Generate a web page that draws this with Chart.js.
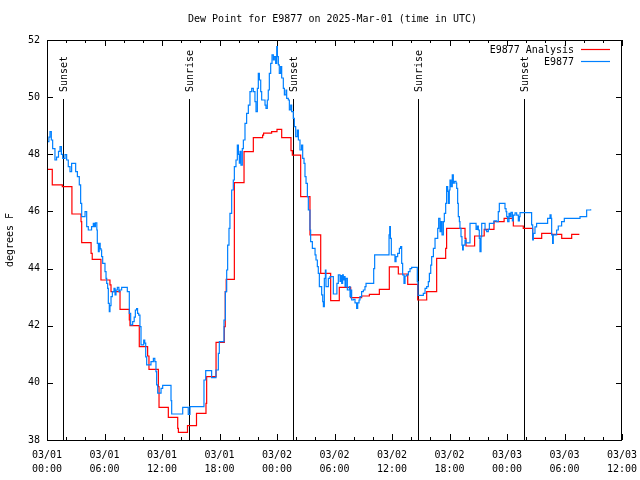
<!DOCTYPE html>
<html><head><meta charset="utf-8">
<script src="https://cdn.jsdelivr.net/npm/chart.js@4.4.0/dist/chart.umd.min.js"></script>
<style>html,body{margin:0;padding:0;background:#fff;}</style>
</head><body>
<canvas id="c" width="640" height="480"></canvas>
<script>
const chartTitle = 'Dew Point for E9877 on 2025-Mar-01 (time in UTC)';
const yAxisLabel = 'degrees F';
const xTickLabels = [['03/01','00:00'],['03/01','06:00'],['03/01','12:00'],['03/01','18:00'],['03/02','00:00'],['03/02','06:00'],['03/02','12:00'],['03/02','18:00'],['03/03','00:00'],['03/03','06:00'],['03/03','12:00']];
const sunHours = [1.7, 14.85, 25.7, 38.75, 49.8];
const sunLabels = ['Sunset','Sunrise','Sunset','Sunrise','Sunset'];
const seriesNames = ['E9877 Analysis','E9877'];
const seriesColors = ['#ff0000','#0080ff'];

// hours since 03/01 00:00 UTC (step change points)
const redHours = [0,0.55,1.6,2.6,3.55,3.62,4.6,4.72,5.63,6.57,6.68,7.62,8.59,8.66,9.63,10.5,10.64,11.62,11.69,12.66,13.64,13.71,14.66,15.6,16.59,16.66,17.64,18.5,18.6,18.7,19.55,20.56,21.53,22.5,22.6,23.44,24.0,24.49,25.46,25.6,26.47,27.44,28.56,29.6,30.5,31.69,32.83,33.64,34.68,35.72,36.66,37.64,38.68,39.62,40.66,41.6,41.7,43.62,43.72,44.62,45.62,46.64,47.7,48.66,49.7,50.68,51.62,52.66,53.71,54.75,55.55];
const redValues = [47.47,46.93,46.87,45.91,45.64,44.91,44.53,44.32,43.6,43.43,43.19,42.57,42.2,42.0,41.27,40.94,40.47,39.87,39.14,38.79,38.41,38.27,38.5,38.93,39.28,40.22,41.42,41.97,43.19,43.62,47.01,48.09,48.58,48.67,48.74,48.79,48.87,48.58,48.13,47.97,46.52,45.18,43.83,42.88,43.34,42.98,43.04,43.1,43.27,44.06,43.81,43.45,42.9,43.19,44.36,44.71,45.41,45.06,44.79,45.14,45.37,45.64,45.76,45.49,45.41,45.06,45.23,45.2,45.06,45.2,45.2];

const blueHours = [0,0.2,0.31,0.45,0.59,0.83,1.0,1.2,1.36,1.5,1.64,1.88,2.05,2.22,2.4,2.57,2.99,3.17,3.37,3.51,3.62,3.97,4.14,4.31,4.65,4.83,4.95,5.05,5.2,5.25,5.36,5.45,5.55,5.63,5.7,5.81,6.05,6.16,6.23,6.33,6.4,6.5,6.57,6.68,6.82,6.99,7.1,7.2,7.34,7.5,7.6,7.79,8.38,8.59,8.73,8.94,9.1,9.22,9.35,9.45,9.57,9.7,9.81,10.09,10.2,10.3,10.4,10.85,11.1,11.25,11.37,11.44,11.55,11.9,12.07,12.94,13.01,14.16,14.74,14.92,16.38,16.56,17.18,17.63,17.88,17.98,18.47,18.61,18.75,18.85,18.99,19.09,19.27,19.44,19.55,19.72,19.86,19.97,20.07,20.14,20.24,20.38,20.49,20.66,20.83,21.01,21.18,21.36,21.53,21.7,21.81,21.95,22.05,22.16,22.3,22.4,22.75,22.85,22.99,23.09,23.2,23.34,23.48,23.62,23.72,23.86,23.97,24.04,24.14,24.24,24.38,24.49,24.66,24.77,24.94,25.01,25.18,25.29,25.43,25.53,25.7,25.81,25.95,26.12,26.23,26.4,26.57,26.68,26.82,26.92,27.03,27.17,27.27,27.44,27.51,27.69,27.97,28.07,28.21,28.31,28.42,28.66,28.77,28.84,28.94,29.05,29.11,29.36,29.53,29.88,30.25,30.4,30.58,30.68,30.75,30.85,30.92,31.03,31.1,31.2,31.34,31.55,31.62,31.72,31.79,31.97,32.14,32.31,32.42,32.56,32.66,32.83,33.01,33.18,33.29,34.09,34.19,35.69,35.76,35.83,35.93,36.31,36.42,36.59,36.77,36.9,37.01,37.11,37.25,37.36,37.53,37.71,37.88,38.05,38.64,38.71,39.27,39.45,39.62,39.79,39.9,40.04,40.14,40.32,40.49,40.77,40.87,41.01,41.11,41.22,41.36,41.46,41.6,41.7,41.81,41.88,41.98,42.05,42.16,42.29,42.4,42.5,42.68,42.75,42.85,42.92,43.03,43.09,43.2,43.3,43.37,43.44,43.62,43.72,44.14,44.77,44.9,45.01,45.11,45.18,45.29,45.36,45.71,45.88,46.05,46.16,46.64,46.92,47.09,47.2,47.79,47.9,47.97,48.07,48.21,48.31,48.42,48.56,48.66,48.84,49.01,49.18,49.29,49.36,50.57,50.68,50.75,50.92,51.09,52.24,52.49,52.6,52.66,52.76,52.83,53.18,53.35,53.7,53.98,55.62,56.31,56.73];
const blueValues = [48.44,48.6,48.79,48.5,48.2,47.8,47.9,48.1,48.27,48.0,47.86,47.99,47.8,47.57,47.39,47.68,47.39,47.22,46.93,46.28,45.82,45.99,45.47,45.35,45.47,45.58,45.47,45.6,45.35,44.88,44.59,44.88,44.7,44.65,44.42,44.18,43.89,43.66,43.48,43.31,42.78,42.49,42.7,43.02,43.19,43.31,43.08,43.25,43.34,43.19,43.25,43.34,43.19,42.43,42.03,42.14,42.3,42.55,42.6,42.43,42.37,41.97,41.33,41.5,41.39,40.91,40.63,40.74,40.86,40.74,40.39,39.93,39.64,39.81,39.91,39.38,38.91,39.14,38.9,39.17,40.1,40.43,40.18,40.45,41.03,41.44,42.2,43.19,43.95,44.82,45.41,45.93,46.75,47.1,47.57,47.8,48.32,48.0,47.69,48.1,47.62,48.2,48.5,49.08,49.43,49.72,50.19,50.31,50.19,49.84,49.49,50.31,50.83,50.6,50.19,49.9,49.72,49.61,49.9,50.25,50.83,51.18,51.48,51.3,51.42,51.18,51.77,51.42,51.13,50.83,51.07,50.67,50.31,50.08,50.25,49.96,49.9,49.55,49.72,49.49,49.26,48.97,48.62,48.85,48.5,48.15,48.32,47.86,47.68,47.22,46.98,46.52,46.05,45.35,44.94,44.71,44.48,44.3,44.07,43.83,43.37,43.08,42.84,42.67,43.66,43.95,43.37,43.66,43.72,43.11,43.48,43.78,43.55,43.75,43.48,43.78,43.6,43.72,43.37,43.66,43.25,43.37,43.02,43.25,42.9,42.92,42.8,42.61,42.8,42.9,43.02,43.19,43.25,43.37,43.48,44.0,44.48,45.18,45.47,45.06,44.48,44.24,44.42,44.53,44.71,44.77,44.18,43.78,43.48,43.74,43.78,43.89,44.0,44.04,43.54,43.06,43.13,43.31,43.37,43.54,43.83,44.12,44.42,44.71,45.06,45.41,45.76,45.29,45.64,45.18,45.64,45.93,46.28,46.87,46.7,46.28,46.75,47.1,46.87,47.28,46.99,47.05,46.99,46.81,46.28,45.82,45.64,45.41,45.12,44.82,44.65,44.82,45.0,44.9,45.58,45.37,45.49,45.35,45.06,44.59,45.12,45.58,45.35,45.29,45.37,45.58,45.67,45.64,45.99,46.28,46.1,45.99,45.82,45.64,45.93,45.82,45.97,45.67,45.87,45.95,45.87,45.67,45.82,45.96,45.53,45.0,45.23,45.46,45.58,45.76,45.88,45.76,45.18,44.88,45.18,45.35,45.49,45.64,45.76,45.82,46.05,46.08];

const FONT = 'DejaVu Sans Mono';
const toXY = (xs, ys) => xs.map((x, i) => ({x: x, y: ys[i]}));

const gnuFrame = {
  id: 'gnuFrame',
  beforeDatasetsDraw(chart) {
    const {ctx, chartArea: a, scales: {x}} = chart;
    ctx.save();
    ctx.strokeStyle = '#000'; ctx.lineWidth = 1;
    ctx.fillStyle = '#000';
    ctx.font = '10px "' + FONT + '"';
    sunHours.forEach((h, i) => {
      const px = Math.round(x.getPixelForValue(h)) + 0.5;
      ctx.beginPath(); ctx.moveTo(px, 99); ctx.lineTo(px, a.bottom); ctx.stroke();
      ctx.save();
      ctx.translate(px + 1, 92); ctx.rotate(-Math.PI / 2);
      ctx.textAlign = 'left'; ctx.textBaseline = 'middle';
      ctx.fillText(sunLabels[i], 0, 0);
      ctx.restore();
    });
    ctx.restore();
  },
  afterDraw(chart) {
    const {ctx, chartArea: a, scales: {x, y}} = chart;
    ctx.save();
    ctx.strokeStyle = '#000'; ctx.lineWidth = 1;
    ctx.strokeRect(a.left + 0.5, a.top + 0.5, a.right - a.left - 1, a.bottom - a.top);
    ctx.beginPath();
    for (let v = 0; v <= 60; v += 2) {
      const px = Math.round(x.getPixelForValue(v)) + 0.5;
      const len = (v % 6 === 0) ? 6 : 3;
      ctx.moveTo(px, a.bottom); ctx.lineTo(px, a.bottom - len);
      ctx.moveTo(px, a.top); ctx.lineTo(px, a.top + len);
    }
    for (let v = 38; v <= 52; v += 2) {
      const py = Math.round(y.getPixelForValue(v)) + 0.5;
      ctx.moveTo(a.left, py); ctx.lineTo(a.left + 6, py);
      ctx.moveTo(a.right, py); ctx.lineTo(a.right - 6, py);
    }
    ctx.stroke();
    ctx.fillStyle = '#000';
    ctx.font = '10px "' + FONT + '"';
    ctx.textAlign = 'center'; ctx.textBaseline = 'middle';
    ctx.fillText(chartTitle, (a.left + a.right) / 2 - 2, 19);
    ctx.save();
    ctx.translate(10, (a.top + a.bottom) / 2); ctx.rotate(-Math.PI / 2);
    ctx.fillText(yAxisLabel, 0, 0);
    ctx.restore();
    // legend
    ctx.textAlign = 'right';
    const ly = [50, 62];
    chart.data.datasets.forEach((ds, i) => {
      ctx.fillStyle = '#000';
      ctx.fillText(ds.label, 574, ly[i]);
      ctx.strokeStyle = ds.borderColor;
      ctx.lineWidth = 1.2;
      ctx.beginPath(); ctx.moveTo(581, ly[i] - 0.5); ctx.lineTo(610, ly[i] - 0.5); ctx.stroke();
    });
    ctx.restore();
  }
};

new Chart(document.getElementById('c'), {
  type: 'line',
  data: {
    datasets: [
      {label: seriesNames[0], data: toXY(redHours, redValues), borderColor: seriesColors[0], borderWidth: 1.2, stepped: 'before', pointRadius: 0, fill: false, order: 1},
      {label: seriesNames[1], data: toXY(blueHours, blueValues), borderColor: seriesColors[1], borderWidth: 1.2, stepped: 'before', pointRadius: 0, fill: false, order: 0}
    ]
  },
  options: {
    responsive: false, animation: false, devicePixelRatio: 1,
    layout: {padding: {top: 40, right: 18, left: 0, bottom: 0}},
    plugins: {legend: {display: false}, title: {display: false}, tooltip: {enabled: false}},
    scales: {
      x: {
        type: 'linear', min: 0, max: 60,
        grid: {display: false, drawTicks: false}, border: {display: false},
        ticks: {stepSize: 6, autoSkip: false, maxRotation: 0, minRotation: 0, padding: 8, color: '#000',
          font: {family: FONT, size: 10, lineHeight: 1.4},
          callback: (v) => xTickLabels[Math.round(v / 6)]},
        afterFit: (s) => { s.height = 40; s.paddingLeft = 0; s.paddingRight = 0; }
      },
      y: {
        min: 38, max: 52,
        grid: {display: false, drawTicks: false}, border: {display: false},
        ticks: {stepSize: 2, padding: 7, color: '#000', font: {family: FONT, size: 10}},
        afterFit: (s) => { s.width = 47; s.paddingTop = 0; s.paddingBottom = 0; }
      }
    }
  },
  plugins: [gnuFrame]
});
</script>
</body></html>
